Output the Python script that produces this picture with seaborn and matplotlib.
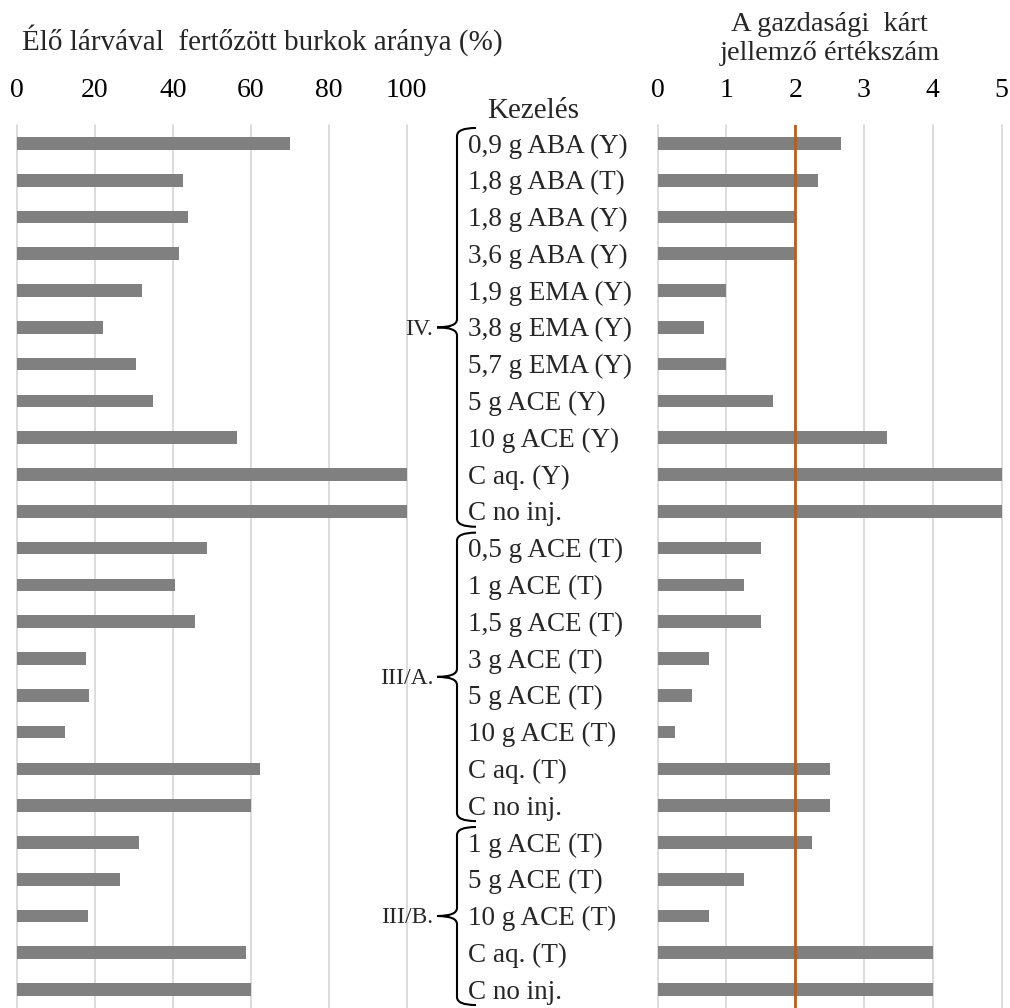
import numpy as np
import pandas as pd
import matplotlib
matplotlib.use("Agg")
import matplotlib.pyplot as plt
import seaborn as sns
from matplotlib.path import Path
from matplotlib.patches import PathPatch

# ---------------- data ----------------
treatments = [
    "0,9 g ABA (Y)", "1,8 g ABA (T)", "1,8 g ABA (Y)", "3,6 g ABA (Y)",
    "1,9 g EMA (Y)", "3,8 g EMA (Y)", "5,7 g EMA (Y)", "5 g ACE (Y)",
    "10 g ACE (Y)", "C aq. (Y)", "C no inj.",
    "0,5 g ACE (T)", "1 g ACE (T)", "1,5 g ACE (T)", "3 g ACE (T)",
    "5 g ACE (T)", "10 g ACE (T)", "C aq. (T)", "C no inj.",
    "1 g ACE (T)", "5 g ACE (T)", "10 g ACE (T)", "C aq. (T)", "C no inj.",
]
infested_pct = [70, 42.5, 44, 41.7, 32, 22, 30.5, 35, 56.4, 100, 100,
                48.7, 40.6, 45.7, 17.6, 18.4, 12.3, 62.4, 60,
                31.3, 26.4, 18.2, 58.9, 60]
damage_score = [2.67, 2.33, 2, 2, 1, 0.67, 1, 1.67, 3.33, 5, 5,
                1.5, 1.25, 1.5, 0.75, 0.5, 0.25, 2.5, 2.5,
                2.25, 1.25, 0.75, 4, 4]
group_names = ["IV.", "III/A.", "III/B."]
group_start = [0, 11, 19]
group_end = [10, 18, 23]
left_ticks = [0, 20, 40, 60, 80, 100]
right_ticks = [0, 1, 2, 3, 4, 5]
threshold = 2

left_title = "Élő lárvával  fertőzött burkok aránya (%)"
right_title = ["A gazdasági  kárt", "jellemző értékszám"]
middle_title = "Kezelés"

# ---------------- style ----------------
sns.set_theme(style="white")
plt.rcParams["font.family"] = ["Liberation Serif", "DejaVu Serif"]
FS_LAB = 19.5
FS_TICK = 20
FS_TITLE = 21
FS_RTITLE = 20.5
FS_GROUP = 17
BAR = "#808080"
GRID = "#D9D9D9"
ORANGE = "#C55A11"

W, H = 1010, 1008
fig = plt.figure(figsize=(W / 100, H / 100), dpi=100)


def px_ax(x0, x1, y0, y1):
    return fig.add_axes([x0 / W, 1 - y1 / H, (x1 - x0) / W, (y1 - y0) / H])


axL = px_ax(17, 406.5, 125, 1008)
axR = px_ax(657.7, 1001.5, 125, 1008)
axM = px_ax(410, 650, 125, 1008)

df = pd.DataFrame({
    "row": [f"r{i}" for i in range(len(treatments))],
    "label": treatments,
    "pct": infested_pct,
    "score": damage_score,
})

sns.barplot(data=df, x="pct", y="row", ax=axL, orient="h", color=BAR,
            width=0.345, saturation=1, linewidth=0)
sns.barplot(data=df, x="score", y="row", ax=axR, orient="h", color=BAR,
            width=0.345, saturation=1, linewidth=0)


def style(ax, lim, ticks):
    ax.set_xlim(*lim)
    ax.set_xticks(ticks)
    ax.set_xticklabels([str(t) for t in ticks])
    ax.xaxis.tick_top()
    ax.tick_params(axis="x", length=0, pad=15.5, labelsize=FS_TICK, colors="black")
    ax.set_yticks([])
    ax.set_xlabel("")
    ax.set_ylabel("")
    for s in ax.spines.values():
        s.set_visible(False)
    ax.grid(axis="x", color=GRID, lw=1.3)
    ax.set_axisbelow(True)
    for gl in ax.get_xgridlines():
        gl.set_clip_on(False)


style(axL, (0, 100), left_ticks)
style(axR, (0, 5), right_ticks)
axR.axvline(threshold, color=ORANGE, lw=2, zorder=5)

# ---------------- middle labels ----------------
axM.set_ylim(axL.get_ylim())
axM.set_xlim(410, 650)
axM.axis("off")
for i, t in enumerate(treatments):
    axM.text(468, i + 0.07, t, ha="left", va="center", fontsize=FS_LAB)

r = 0.22
xs, xe, xt = 457, 476, 437
for name, s0, e0 in zip(group_names, group_start, group_end):
    y0, y1 = s0 - 0.42, e0 + 0.42
    ym = (y0 + y1) / 2
    verts = [(xe, y0), (xs, y0), (xs, y0 + r),
             (xs, ym - r),
             (xs, ym), (xt, ym),
             (xs, ym), (xs, ym + r),
             (xs, y1 - r),
             (xs, y1), (xe, y1)]
    codes = [Path.MOVETO, Path.CURVE3, Path.CURVE3,
             Path.LINETO,
             Path.CURVE3, Path.CURVE3,
             Path.CURVE3, Path.CURVE3,
             Path.LINETO,
             Path.CURVE3, Path.CURVE3]
    axM.add_patch(PathPatch(Path(verts, codes), facecolor="none",
                            edgecolor="black", lw=1.5, clip_on=False))
    axM.text(433, ym + 0.05, name, ha="right", va="center", fontsize=FS_GROUP)

# ---------------- titles ----------------
fig.text(22 / W, 1 - 50 / H, left_title, ha="left", va="baseline", fontsize=FS_TITLE)
fig.text(829.5 / W, 1 - 31 / H, right_title[0], ha="center", va="baseline", fontsize=FS_RTITLE)
fig.text(829.5 / W, 1 - 60 / H, right_title[1], ha="center", va="baseline", fontsize=FS_RTITLE)
fig.text(533 / W, 1 - 118 / H, middle_title, ha="center", va="baseline", fontsize=FS_TITLE)

fig.savefig("out.png", dpi=100)
